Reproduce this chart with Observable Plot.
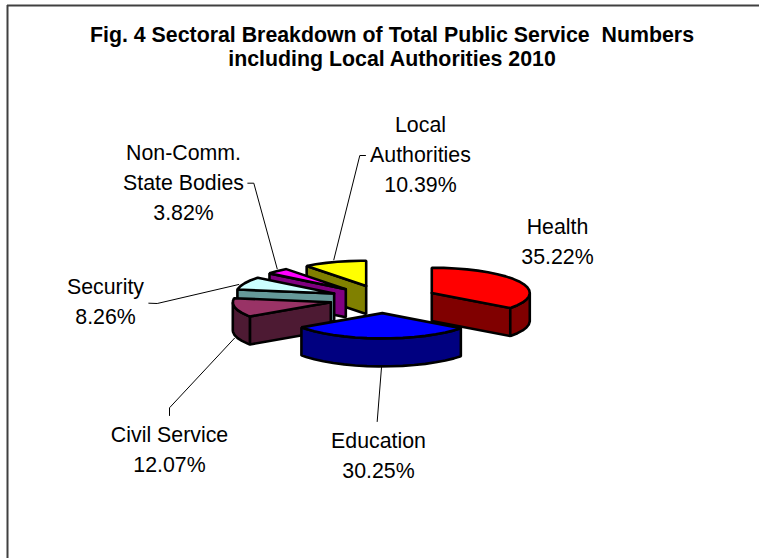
<!DOCTYPE html>
<html>
<head>
<meta charset="utf-8">
<script src="https://cdn.jsdelivr.net/npm/d3@7"></script>
<script src="https://cdn.jsdelivr.net/npm/@observablehq/plot@0.6"></script>
<style>
  html, body { margin: 0; padding: 0; background: #fff; }
  svg { display: block; }
</style>
</head>
<body>
<div id="chart"></div>
<script>
// Sector shares of public service numbers, clockwise from twelve o'clock.
const sectors = ["Health", "Education", "Civil Service", "Security", "Non-Comm. State Bodies", "Local Authorities"];
const shares = [35.22, 30.25, 12.07, 8.26, 3.82, 10.39];
const labelLines = [["Health"], ["Education"], ["Civil Service"], ["Security"], ["Non-Comm.", "State Bodies"], ["Local", "Authorities"]];
const topColors = ["#ff0000", "#0000ff", "#993366", "#ccffff", "#ff00ff", "#ffff00"];
const sideColors = ["#800000", "#000080", "#4d1a33", "#669999", "#800080", "#808000"];

// Slices are painted back to front, by index into the arrays above.
const paintOrder = [5, 4, 3, 2, 0, 1];

const titleLines = ["Fig. 4 Sectoral Breakdown of Total Public Service  Numbers", "including Local Authorities 2010"];

// Oblique view of the exploded pie.
const view = { cx: 383, cy: 298.7, radius: 98, tilt: 0.258, depth: 28, explode: 54, step: 7 };

// Label placement: centre x and baseline of the last line, plus leader polylines.
const labelAnchors = [[557, 263], [378, 477], [169, 471], [105, 323], [183, 219], [420, 191]];
const leaders = [
  null,
  [[376.7, 421], [381, 367]],
  [[169, 415], [169, 407.3], [234, 337.7]],
  [[148.3, 302.7], [156.7, 303], [238.3, 284]],
  [[247.3, 182.7], [253.3, 182.7], [276.7, 268.3]],
  [[365, 155], [359.3, 155], [333.3, 259.3]]
];

const rad = d => d * Math.PI / 180;
const total = d3.sum(shares);
const edges = [0, ...d3.cumsum(shares).map(v => v / total * 360)];

function project(apex, angle, r, drop = 0) {
  return [apex[0] + r * Math.sin(rad(angle)), apex[1] - r * Math.cos(rad(angle)) * view.tilt + drop];
}

function arcAngles(a, b) {
  const out = [a];
  for (let t = Math.ceil(a / view.step) * view.step; t < b; t += view.step) if (t > a) out.push(t);
  out.push(b);
  return out;
}

// Build every visible face as a closed ring of points.
const faces = [];
let faceId = 0;
function addFace(ring, color) {
  const id = faceId++;
  [...ring, ring[0]].forEach(([x, y]) => faces.push({ id, x, y, color }));
}

for (const i of paintOrder) {
  const a = edges[i], b = edges[i + 1], mid = (a + b) / 2;
  const apex = project([view.cx, view.cy], mid, view.explode);
  const wall = angle => [
    apex, project(apex, angle, view.radius),
    project(apex, angle, view.radius, view.depth), [apex[0], apex[1] + view.depth]
  ];
  if (Math.sin(rad(a)) < -1e-6) addFace(wall(a), sideColors[i]);
  if (Math.sin(rad(b)) > 1e-6) addFace(wall(b), sideColors[i]);
  const from = Math.max(a, 90), to = Math.min(b, 270);
  if (to > from) {
    const arc = arcAngles(from, to);
    addFace([
      ...arc.map(t => project(apex, t, view.radius)),
      ...arc.slice().reverse().map(t => project(apex, t, view.radius, view.depth))
    ], sideColors[i]);
  }
  addFace([apex, ...arcAngles(a, b).map(t => project(apex, t, view.radius))], topColors[i]);
}

const leaderPoints = leaders.flatMap((pts, i) => pts ? pts.map(([x, y]) => ({ i, x, y })) : []);

// One row per text line, stacked upward from the percentage line.
const labelRows = shares.flatMap((v, i) => {
  const rows = [...labelLines[i], `${v.toFixed(2)}%`];
  return rows.map((text, k) => ({
    text, x: labelAnchors[i][0], y: labelAnchors[i][1] - (rows.length - 1 - k) * 30
  }));
});

const titleRows = titleLines.map((text, k) => ({ text, x: 391.5, y: 41 + k * 24 }));

const chart = Plot.plot({
  width: 759,
  height: 558,
  margin: 0,
  style: { background: "#fff", fontFamily: "'Liberation Sans', Arial, sans-serif" },
  x: { domain: [0, 759], range: [0, 759], axis: null },
  y: { domain: [0, 558], range: [0, 558], axis: null },
  color: { type: "identity" },
  marks: [
    Plot.ruleY([5], { x1: 7, x2: 759, stroke: "#404040", strokeWidth: 2 }),
    Plot.ruleX([7], { y1: 5, y2: 558, stroke: "#404040", strokeWidth: 2 }),
    Plot.line(leaderPoints, { x: "x", y: "y", z: "i", stroke: "#000", strokeWidth: 1, curve: "linear" }),
    Plot.line(faces, {
      x: "x", y: "y", z: "id", fill: "color", stroke: "#000",
      strokeWidth: 2.6, strokeLinejoin: "miter", curve: "linear"
    }),
    Plot.text(titleRows, {
      x: "x", y: "y", text: "text", fontSize: 21.33, fontWeight: "bold",
      textAnchor: "middle", lineAnchor: "bottom", fill: "#000"
    }),
    Plot.text(labelRows, {
      x: "x", y: "y", text: "text", fontSize: 21.33,
      textAnchor: "middle", lineAnchor: "bottom", fill: "#000"
    })
  ]
});

document.getElementById("chart").append(chart);
</script>
</body>
</html>
